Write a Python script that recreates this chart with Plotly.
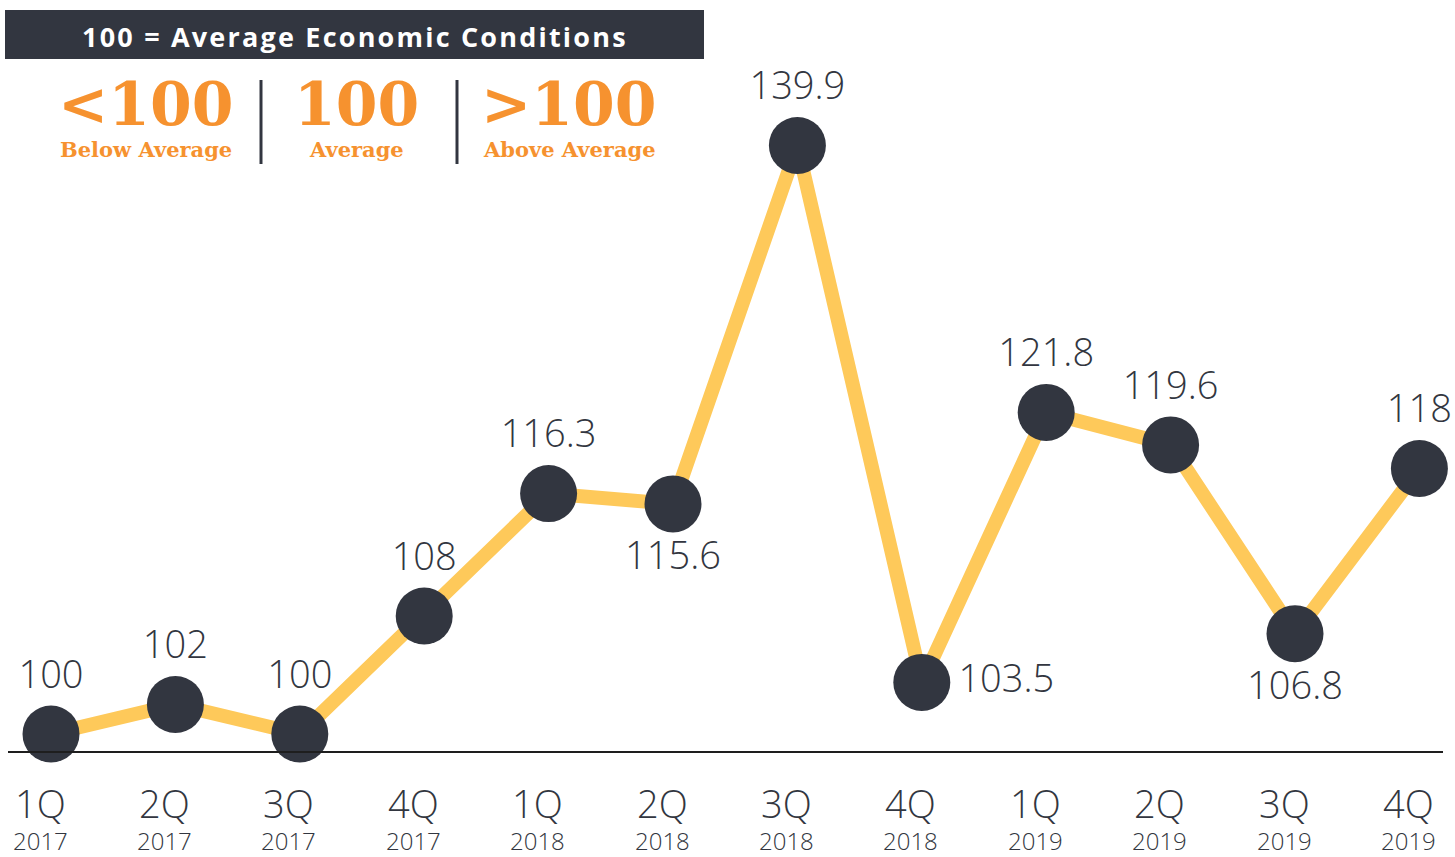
import plotly.graph_objects as go

quarters = ["1Q", "2Q", "3Q", "4Q", "1Q", "2Q", "3Q", "4Q", "1Q", "2Q", "3Q", "4Q"]
years = ["2017", "2017", "2017", "2017", "2018", "2018", "2018", "2018", "2019", "2019", "2019", "2019"]
values = [100, 102, 100, 108, 116.3, 115.6, 139.9, 103.5, 121.8, 119.6, 106.8, 118]
label_pos = ["top center", "top center", "top center", "top center", "top center", "bottom center",
             "top center", "middle right", "top center", "top center", "bottom center", "top center"]
value_labels = [f"{v:g}" for v in values]

W, H = 1455, 857
PLOT_BOTTOM = 751
DARK = "#323640"
YELLOW = "#FEC95A"
ORANGE = "#F6922F"
FONT = "Open Sans"


def px(x):
    return x / W


def py(y):
    return (PLOT_BOTTOM - y) / PLOT_BOTTOM


xs = list(range(len(values)))

fig = go.Figure()
fig.add_trace(go.Scatter(
    x=xs, y=values, mode="lines+markers+text",
    line=dict(color=YELLOW, width=14),
    marker=dict(size=57, color=DARK, line=dict(width=0)),
    text=value_labels, textposition=label_pos,
    textfont=dict(family=FONT, size=38, color=DARK, weight=300),
    cliponaxis=False, hoverinfo="skip", showlegend=False,
))

annotations = []
for i, (q, yr) in enumerate(zip(quarters, years)):
    annotations.append(dict(x=i, y=0, xref="x", yref="paper", text=q, showarrow=False,
                            xanchor="center", yanchor="middle", yshift=-52, xshift=-11,
                            font=dict(family=FONT, size=38, color=DARK, weight=300)))
    annotations.append(dict(x=i, y=0, xref="x", yref="paper", text=yr, showarrow=False,
                            xanchor="center", yanchor="middle", yshift=-89, xshift=-11,
                            font=dict(family=FONT, size=24, color=DARK, weight=300)))

# Title bar text
annotations.append(dict(x=px(355), y=py(37), xref="paper", yref="paper",
                        text="<b><span style='letter-spacing:2.2px'>100 = Average Economic Conditions</span></b>",
                        showarrow=False, xanchor="center", yanchor="middle",
                        font=dict(family=FONT, size=27, color="white")))

# Legend key
SERIF = "DejaVu Serif"
for cx, big, small in [(146, "&lt;100", "Below Average"), (356, "100", "Average"), (569, "&gt;100", "Above Average")]:
    annotations.append(dict(x=px(cx), y=py(104), xref="paper", yref="paper",
                            text=f"<b>{big}</b>", showarrow=False, xanchor="center", yanchor="middle",
                            font=dict(family=SERIF, size=60, color=ORANGE)))
    annotations.append(dict(x=px(cx), y=py(150), xref="paper", yref="paper",
                            text=f"<b>{small}</b>", showarrow=False, xanchor="center", yanchor="middle",
                            font=dict(family=SERIF, size=21, color=ORANGE)))

shapes = [
    dict(type="rect", xref="paper", yref="paper", x0=px(5), x1=px(704), y0=py(59), y1=py(10),
         fillcolor=DARK, line=dict(width=0), layer="below"),
    dict(type="line", xref="paper", yref="paper", x0=px(261), x1=px(261), y0=py(164), y1=py(80),
         line=dict(color=DARK, width=3)),
    dict(type="line", xref="paper", yref="paper", x0=px(457), x1=px(457), y0=py(164), y1=py(80),
         line=dict(color=DARK, width=3)),
]

X0_PX, STEP_PX = 51, 124.4
ypx = 14.75
fig.update_layout(
    width=W, height=H,
    margin=dict(l=0, r=0, t=0, b=H - PLOT_BOTTOM, pad=0),
    paper_bgcolor="white", plot_bgcolor="white",
    xaxis=dict(domain=[px(8), px(1443)], range=[(8 - X0_PX) / STEP_PX, (1443 - X0_PX) / STEP_PX],
               showgrid=False, zeroline=False, showticklabels=False, ticks="",
               showline=True, linecolor="#1e1e1e", linewidth=2, fixedrange=True),
    yaxis=dict(range=[100 - (751 - 734) / ypx, 100 + 734 / ypx], showgrid=False, zeroline=False,
               showticklabels=False, ticks="", showline=False, fixedrange=True),
    annotations=annotations, shapes=shapes,
)

fig.write_html("out.html", config={"displayModeBar": False},
               post_script="document.body.style.margin='0';document.body.style.overflow='hidden';")
